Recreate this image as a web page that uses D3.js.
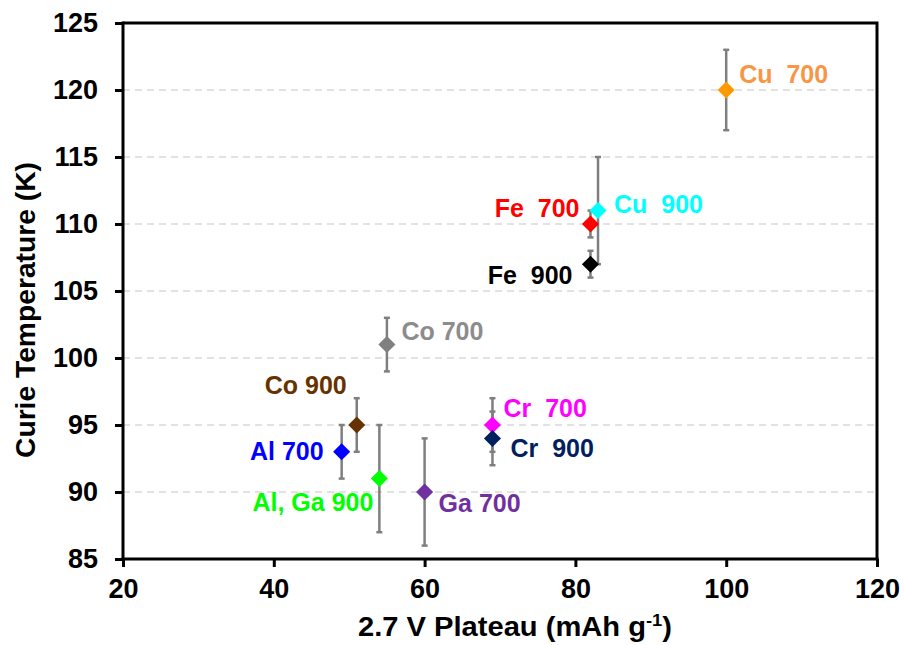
<!DOCTYPE html>
<html>
<head>
<meta charset="utf-8">
<script src="https://cdn.jsdelivr.net/npm/d3@7"></script>
<style>
  html, body { margin: 0; padding: 0; background: #fff; }
  svg { display: block; font-family: "Liberation Sans", Arial, sans-serif; font-weight: bold; }
</style>
</head>
<body>
<svg id="chart" width="904" height="645"></svg>
<script>
// Samples: name, 2.7 V plateau capacity, Curie temperature and its error
const samples   = ["Cu  700", "Cu  900", "Fe  700", "Fe  900", "Co 700", "Co 900", "Al 700", "Al, Ga 900", "Ga 700", "Cr  700", "Cr  900"];
const plateau   = [100, 83, 82, 82, 55, 51, 49, 54, 60, 69, 69];
const curieT    = [120, 111, 110, 107, 101, 95, 93, 91, 90, 95, 94];
const curieErr  = [3, 4, 1, 1, 2, 2, 2, 4, 4, 2, 2];
const xTicks    = [20, 40, 60, 80, 100, 120];
const yTicks    = [85, 90, 95, 100, 105, 110, 115, 120, 125];

// Colours of markers and their labels
const markerColor = ["#FF9900", "#00FFFF", "#FF0000", "#000000", "#808080", "#663300", "#0000FF", "#00FF00", "#7030A0", "#FF00FF", "#002060"];
const labelColor  = ["#F79646", "#00FFFF", "#FF0000", "#000000", "#8C8C8C", "#663300", "#0000FF", "#00FF00", "#7030A0", "#FF00FF", "#002060"];
// Label placement relative to each marker: [dx, dy, anchor]
const labelPlace  = [[13, -7.5, "start"], [16, 2, "start"], [-11, -7.5, "end"], [-18, 20, "end"], [14.5, -5, "start"],
                     [-10, -31.5, "end"], [-18, 8, "end"], [-6, 32, "end"], [14, 19.5, "start"], [11, -8.5, "start"], [18, 19, "start"]];

const svg = d3.select("#chart");
const plotLeft = 123, plotRight = 877, plotTop = 23, plotBottom = 559;

const x = d3.scaleLinear().domain([20, 120]).range([plotLeft, plotRight]);
const y = d3.scaleLinear().domain([85, 125]).range([plotBottom, plotTop]);

// Horizontal dashed gridlines
svg.append("g").selectAll("line")
  .data(yTicks.filter(t => t > 85 && t < 125))
  .join("line")
  .attr("x1", plotLeft).attr("x2", plotRight)
  .attr("y1", d => y(d)).attr("y2", d => y(d))
  .attr("stroke", "#D9D9D9").attr("stroke-width", 1.5)
  .attr("stroke-dasharray", "7,5");

// Frame: top and right border
svg.append("path")
  .attr("d", `M${plotLeft},${plotTop}H${plotRight}V${plotBottom}`)
  .attr("fill", "none").attr("stroke", "#000").attr("stroke-width", 3);

// Axes
const xAxis = d3.axisBottom(x).tickValues(xTicks).tickSize(8).tickPadding(12).tickSizeOuter(0);
const yAxis = d3.axisLeft(y).tickValues(yTicks).tickSize(8).tickPadding(17).tickSizeOuter(0);

const gx = svg.append("g").attr("transform", `translate(0,${plotBottom})`).call(xAxis);
const gy = svg.append("g").attr("transform", `translate(${plotLeft},0)`).call(yAxis);
[gx, gy].forEach(g => {
  g.select(".domain").attr("stroke", "#000").attr("stroke-width", 3);
  g.selectAll(".tick line").attr("stroke", "#000").attr("stroke-width", 3);
  g.selectAll(".tick text").attr("fill", "#000")
    .style("font-family", "Liberation Sans, Arial, sans-serif")
    .style("font-weight", "bold").style("font-size", "27px");
});
gx.select(".domain").attr("d", `M${plotLeft - 1.5},0H${plotRight + 1.5}`);
gy.select(".domain").attr("d", `M0,${plotTop - 1.5}V${plotBottom + 1.5}`);

// Axis titles
const xt = svg.append("text")
  .attr("x", 515).attr("y", 636)
  .attr("text-anchor", "middle")
  .attr("textLength", 314).attr("lengthAdjust", "spacingAndGlyphs")
  .style("font-size", "27px").attr("fill", "#000");
xt.append("tspan").text("2.7 V Plateau (mAh g");
xt.append("tspan").text("-1").attr("dy", -10).style("font-size", "17px");
xt.append("tspan").text(")").attr("dy", 10);

svg.append("text")
  .attr("transform", "translate(35,310) rotate(-90)")
  .attr("text-anchor", "middle")
  .attr("textLength", 296).attr("lengthAdjust", "spacingAndGlyphs")
  .style("font-size", "28px").attr("fill", "#000")
  .text("Curie Temperature (K)");

// Error bars
const idx = d3.range(samples.length);
const bars = svg.append("g").selectAll("g").data(idx).join("g")
  .attr("stroke", "#7F7F7F").attr("stroke-width", 2.5);
bars.append("line")
  .attr("x1", i => x(plateau[i])).attr("x2", i => x(plateau[i]))
  .attr("y1", i => y(curieT[i] - curieErr[i])).attr("y2", i => y(curieT[i] + curieErr[i]));
bars.append("line")
  .attr("x1", i => x(plateau[i]) - 3).attr("x2", i => x(plateau[i]) + 3)
  .attr("y1", i => y(curieT[i] + curieErr[i])).attr("y2", i => y(curieT[i] + curieErr[i]));
bars.append("line")
  .attr("x1", i => x(plateau[i]) - 3).attr("x2", i => x(plateau[i]) + 3)
  .attr("y1", i => y(curieT[i] - curieErr[i])).attr("y2", i => y(curieT[i] - curieErr[i]));

// Diamond markers
const diamond = d3.symbol().type(d3.symbolDiamond2).size(185);
svg.append("g").selectAll("path").data(idx).join("path")
  .attr("d", diamond)
  .attr("transform", i => `translate(${x(plateau[i])},${y(curieT[i])})`)
  .attr("fill", i => markerColor[i]);

// Point labels
svg.append("g").selectAll("text").data(idx).join("text")
  .attr("x", i => x(plateau[i]) + labelPlace[i][0])
  .attr("y", i => y(curieT[i]) + labelPlace[i][1])
  .attr("text-anchor", i => labelPlace[i][2])
  .attr("fill", i => labelColor[i])
  .style("font-size", "25px")
  .style("white-space", "pre")
  .text(i => samples[i]);
</script>
</body>
</html>
